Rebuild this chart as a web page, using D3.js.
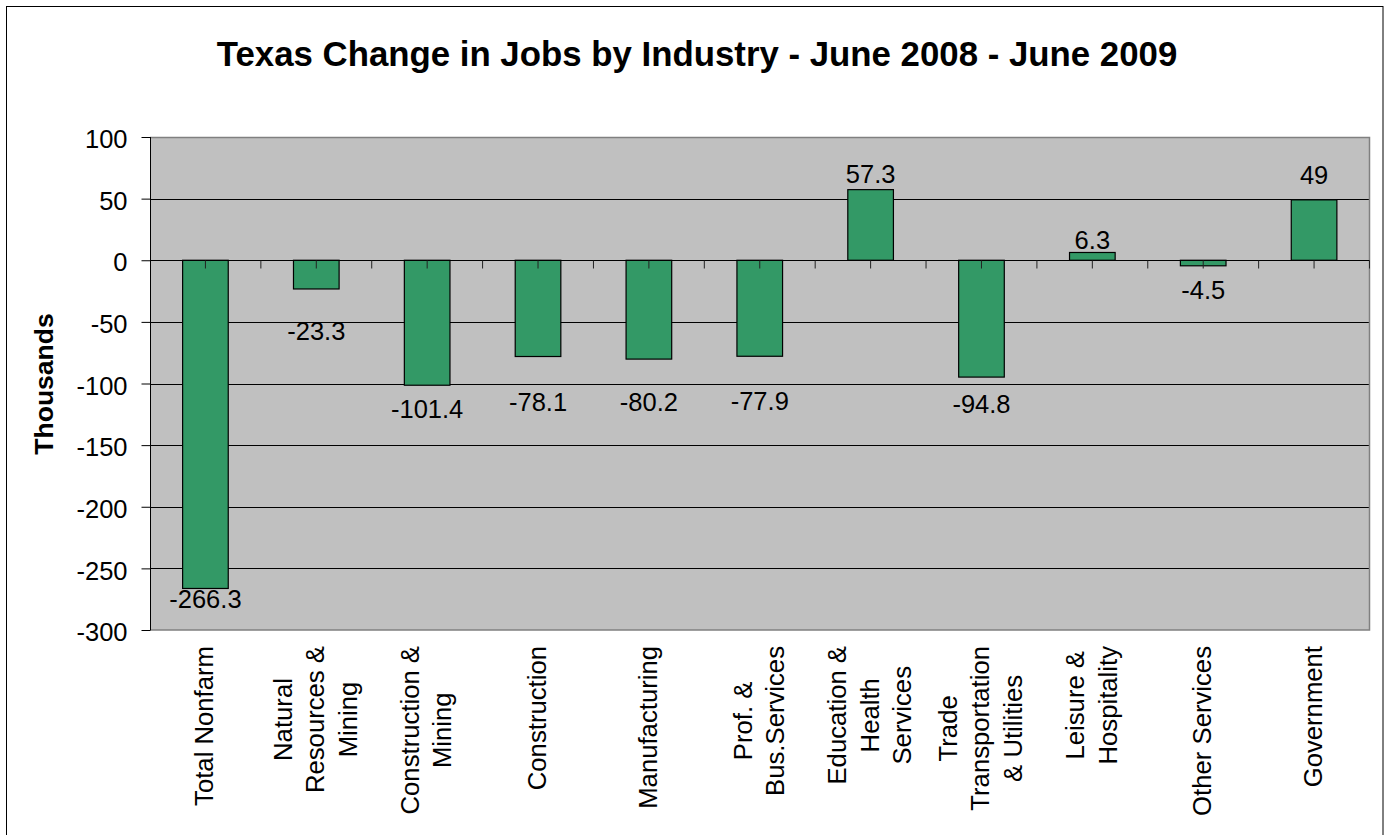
<!DOCTYPE html>
<html>
<head>
<meta charset="utf-8">
<script src="https://cdn.jsdelivr.net/npm/d3@7"></script>
<style>
  body { margin: 0; background: #fff; }
  svg { display: block; font-family: "Liberation Sans", Arial, sans-serif; }
</style>
</head>
<body>
<svg width="1386" height="835"></svg>
<script>
// Chart data
var categories = [
    "Total Nonfarm",
    "Natural\nResources &\nMining",
    "Construction &\nMining",
    "Construction",
    "Manufacturing",
    "Prof. &\nBus.Services",
    "Education &\nHealth\nServices",
    "Trade\nTransportation\n& Utilities",
    "Leisure &\nHospitality",
    "Other Services",
    "Government"
];
var values = [-266.3, -23.3, -101.4, -78.1, -80.2, -77.9, 57.3, -94.8, 6.3, -4.5, 49];
var yTicks = [100, 50, 0, -50, -100, -150, -200, -250, -300];
var title = "Texas Change in Jobs by Industry - June 2008 - June 2009";
var yTitle = "Thousands";

// label baseline shift from the bar end, as placed in the original chart (px)
var labelShift = [20, 51, 33, 54, 52, 54, -7, 36, -3.5, 33, -16];

var svg = d3.select('svg');
var plot = { left: 150, right: 1369.5, top: 137, bottom: 630 };

// outer chart border
svg.append('rect')
    .attr('x', 6.5).attr('y', 6.5)
    .attr('width', 1376.5).attr('height', 840)
    .attr('fill', '#fff').attr('stroke', '#000').attr('stroke-width', 1);

var x = d3.scaleBand()
    .domain(d3.range(categories.length))
    .range([plot.left, plot.right])
    .paddingInner(0.5885)
    .paddingOuter(0.29425);

var y = d3.scaleLinear()
    .domain([-300, 100])
    .range([plot.bottom, plot.top]);

// plot background
svg.append('rect')
    .attr('x', plot.left).attr('y', plot.top)
    .attr('width', plot.right - plot.left).attr('height', plot.bottom - plot.top)
    .attr('fill', '#c0c0c0');

// gridlines
svg.append('g').selectAll('line')
    .data(yTicks.filter(function(d) { return d < 100 && d > -300; }))
    .enter().append('line')
    .attr('x1', plot.left).attr('x2', plot.right)
    .attr('y1', function(d) { return Math.round(y(d)) + 0.5; })
    .attr('y2', function(d) { return Math.round(y(d)) + 0.5; })
    .attr('stroke', '#000').attr('stroke-width', 1);

// plot border (top, right, bottom)
svg.append('path')
    .attr('d', 'M' + plot.left + ',' + (plot.top + 0.5) + 'H' + plot.right +
               'V' + plot.bottom + 'H' + plot.left)
    .attr('fill', 'none').attr('stroke', '#808080').attr('stroke-width', 1.5);

// bars
svg.append('g').selectAll('rect')
    .data(values)
    .enter().append('rect')
    .attr('x', function(d, i) { return x(i); })
    .attr('width', x.bandwidth())
    .attr('y', function(d) { return y(Math.max(0, d)); })
    .attr('height', function(d) { return Math.abs(y(d) - y(0)); })
    .attr('fill', '#339966')
    .attr('stroke', '#000').attr('stroke-width', 1.2);

// category axis line and ticks (at every half step)
var step = x.step();
var zeroY = Math.round(y(0)) + 0.5;
svg.append('line')
    .attr('x1', plot.left).attr('x2', plot.right)
    .attr('y1', zeroY).attr('y2', zeroY)
    .attr('stroke', '#000').attr('stroke-width', 1);
svg.append('g').selectAll('line')
    .data(d3.range(1, categories.length * 2 + 1))
    .enter().append('line')
    .attr('x1', function(k) { return plot.left + k * step / 2; })
    .attr('x2', function(k) { return plot.left + k * step / 2; })
    .attr('y1', zeroY).attr('y2', zeroY + 8)
    .attr('stroke', '#222').attr('stroke-width', 1);

// value axis (plain hyphen for negatives, like the original)
var yAxis = d3.axisLeft(y)
    .tickValues(yTicks)
    .tickSize(9)
    .tickPadding(14)
    .tickFormat(function(d) { return String(d); });
var ga = svg.append('g')
    .attr('transform', 'translate(' + (plot.left + 0.5) + ',0)')
    .call(yAxis);
ga.select('.domain').attr('stroke', '#000').attr('d', 'M0,' + plot.top + 'V' + plot.bottom);
ga.selectAll('.tick line').attr('stroke', '#000');
ga.selectAll('.tick text')
    .attr('dy', '0.42em')
    .style('font-size', '25.5px')
    .style('font-family', '"Liberation Sans", Arial, sans-serif')
    .attr('fill', '#000');

// data labels
svg.append('g').selectAll('text')
    .data(values)
    .enter().append('text')
    .attr('x', function(d, i) { return x(i) + x.bandwidth() / 2; })
    .attr('y', function(d, i) { return y(d) + labelShift[i]; })
    .attr('text-anchor', 'middle')
    .style('font-size', '25.5px')
    .text(function(d) { return String(d); });

// category labels, rotated, lines centred
var catG = svg.append('g');
categories.forEach(function(c, i) {
    var lines = c.split('\n');
    var cx = x(i) + x.bandwidth() / 2;
    var t = catG.append('text')
        .attr('text-anchor', 'middle')
        .style('font-size', '25.7px');
    lines.forEach(function(l, j) {
        t.append('tspan')
            .attr('x', 0)
            .attr('y', (j - (lines.length - 1) / 2) * 32.5 + 8)
            .text(l);
    });
    var maxW = d3.max(t.selectAll('tspan').nodes(), function(n) { return n.getComputedTextLength(); });
    t.attr('transform', 'translate(' + cx + ',' + (646 + maxW / 2) + ') rotate(-90)');
});

// titles
svg.append('text')
    .attr('x', 697).attr('y', 66)
    .attr('text-anchor', 'middle')
    .style('font-size', '34.8px').style('font-weight', 'bold')
    .text(title);

svg.append('text')
    .attr('transform', 'translate(53,384) rotate(-90)')
    .attr('text-anchor', 'middle')
    .style('font-size', '26.5px').style('font-weight', 'bold')
    .text(yTitle);
</script>
</body>
</html>
